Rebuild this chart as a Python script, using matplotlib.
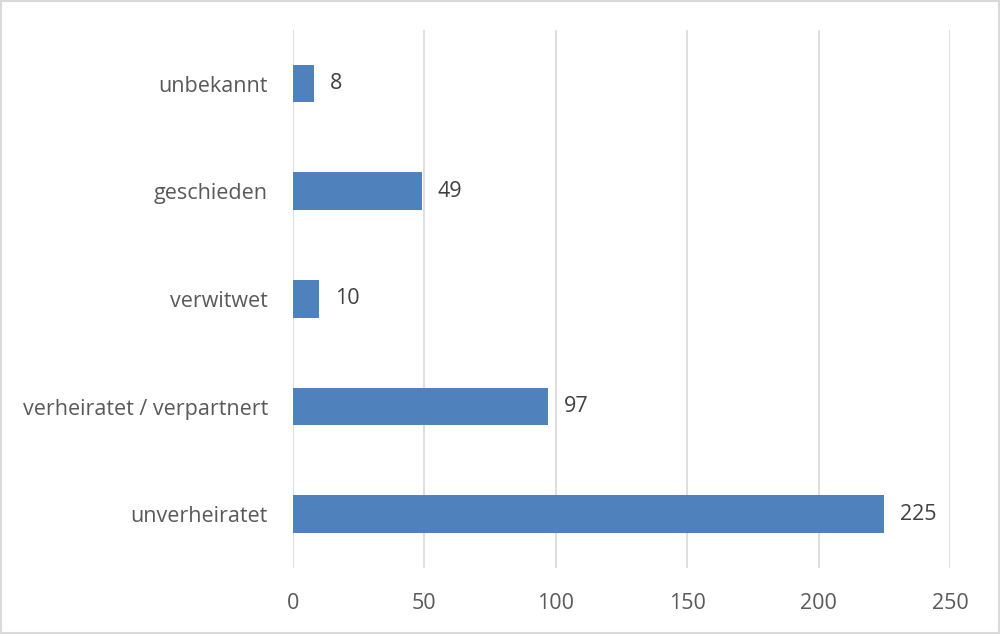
import matplotlib
matplotlib.use("Agg")
from matplotlib import pyplot as plt

categories = ["unverheiratet", "verheiratet / verpartnert", "verwitwet", "geschieden", "unbekannt"]
values = [225, 97, 10, 49, 8]
xticks = [0, 50, 100, 150, 200, 250]

plt.rcParams['font.family'] = ['Open Sans', 'DejaVu Sans']
text_color = "#595959"

fig = plt.figure(figsize=(10, 6.34), dpi=100)
ax = fig.add_axes([0.293, 0.104, 0.657, 0.849])

y = range(len(categories))
ax.barh(y, values, height=0.35, color="#4F81BD", zorder=3)

for i, v in enumerate(values):
    ax.text(v + 6, i, str(v), va="center", ha="left", fontsize=15.5, color="#404040")

ax.set_xlim(0, 250)
ax.set_ylim(-0.5, len(categories) - 0.5)
ax.set_xticks(xticks)
ax.set_yticks(list(y))
ax.set_yticklabels(categories)
ax.tick_params(axis="both", length=0, labelsize=15.5, colors=text_color)
ax.tick_params(axis="x", pad=18)
ax.tick_params(axis="y", pad=18)

ax.grid(axis="x", color="#D9D9D9", linewidth=1.2, zorder=0)
for s in ax.spines.values():
    s.set_visible(False)

# rahmen um das ganze bild
fig.patches.append(plt.Rectangle((0.001, 0.001), 0.998, 0.997, transform=fig.transFigure,
                                 fill=False, edgecolor="#D9D9D9", linewidth=1.5))

plt.savefig("out.png", dpi=100)
